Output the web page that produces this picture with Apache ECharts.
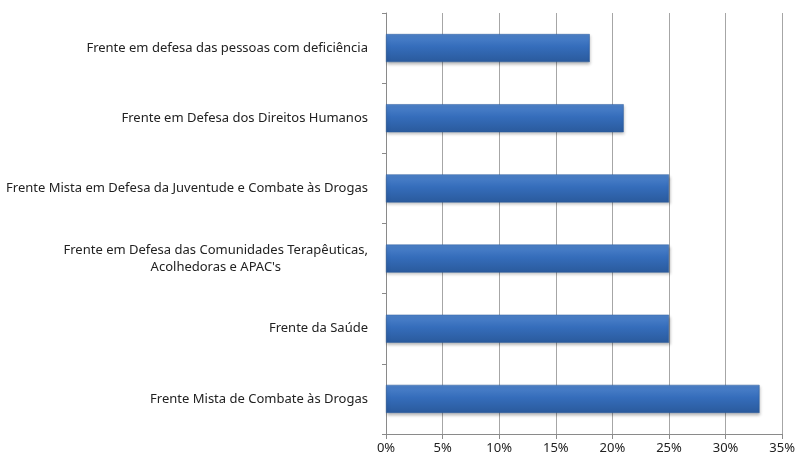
<!DOCTYPE html>
<html>
<head>
<meta charset="utf-8">
<script src="https://cdn.jsdelivr.net/npm/echarts@6/dist/echarts.min.js"></script>
<style>
  html, body { margin: 0; padding: 0; background: #ffffff; }
  #chart { width: 798px; height: 458px; }
</style>
</head>
<body>
<div id="chart"></div>
<script>
// Parliamentary fronts, listed bottom to top as drawn on the category axis
const categories = [
  "Frente Mista de Combate às Drogas",
  "Frente da Saúde",
  "Frente em Defesa das Comunidades Terapêuticas,\nAcolhedoras e APAC's",
  "Frente Mista em Defesa da Juventude e Combate às Drogas",
  "Frente em Defesa dos Direitos Humanos",
  "Frente em defesa das pessoas com deficiência"
];
// Share of respondents per front (percent)
const shares = [33, 25, 25, 25, 21, 18];
// Value axis ticks (percent)
const axisMin = 0;
const axisMax = 35;
const axisStep = 5;

const chart = echarts.init(document.getElementById('chart'), null, { renderer: 'canvas' });

const labelFont = '"Noto Sans", "Open Sans", sans-serif';

chart.setOption({
  animation: false,
  backgroundColor: '#ffffff',
  grid: { left: 386, right: 13, top: 13, bottom: 24, containLabel: false },
  xAxis: {
    type: 'value',
    min: axisMin,
    max: axisMax,
    interval: axisStep,
    axisLine: { show: true, lineStyle: { color: '#8a8a8a', width: 1 } },
    axisTick: { show: true, length: 5, lineStyle: { color: '#8a8a8a' } },
    splitLine: { show: true, lineStyle: { color: '#a6a6a6', width: 1 } },
    axisLabel: {
      formatter: '{value}%',
      color: '#222222',
      fontFamily: labelFont,
      fontSize: 13,
      margin: 8
    }
  },
  yAxis: {
    type: 'category',
    data: categories,
    axisLine: { show: true, lineStyle: { color: '#8a8a8a', width: 1 } },
    axisTick: { show: true, length: 4, inside: false, lineStyle: { color: '#8a8a8a' } },
    splitLine: { show: false },
    axisLabel: {
      margin: 18,
      color: '#222222',
      fontFamily: labelFont,
      fontSize: 13,
      lineHeight: 17,
      formatter: function (v) {
        return v.split('\n').map(function (s) { return '{c|' + s + '}'; }).join('\n');
      },
      rich: {
        c: {
          align: 'center',
          color: '#222222',
          fontFamily: labelFont,
          fontSize: 13,
          lineHeight: 17
        }
      }
    }
  },
  series: [{
    type: 'bar',
    data: shares,
    barWidth: '40%',
    itemStyle: {
      color: new echarts.graphic.LinearGradient(0, 0, 0, 1, [
        { offset: 0, color: '#4f84cc' },
        { offset: 0.45, color: '#356dbb' },
        { offset: 1, color: '#2a5a9c' }
      ]),
      borderColor: '#2f5f9e',
      borderWidth: 0.5,
      shadowColor: 'rgba(0,0,0,0.28)',
      shadowBlur: 3,
      shadowOffsetX: 1,
      shadowOffsetY: 2
    }
  }]
});
</script>
</body>
</html>
